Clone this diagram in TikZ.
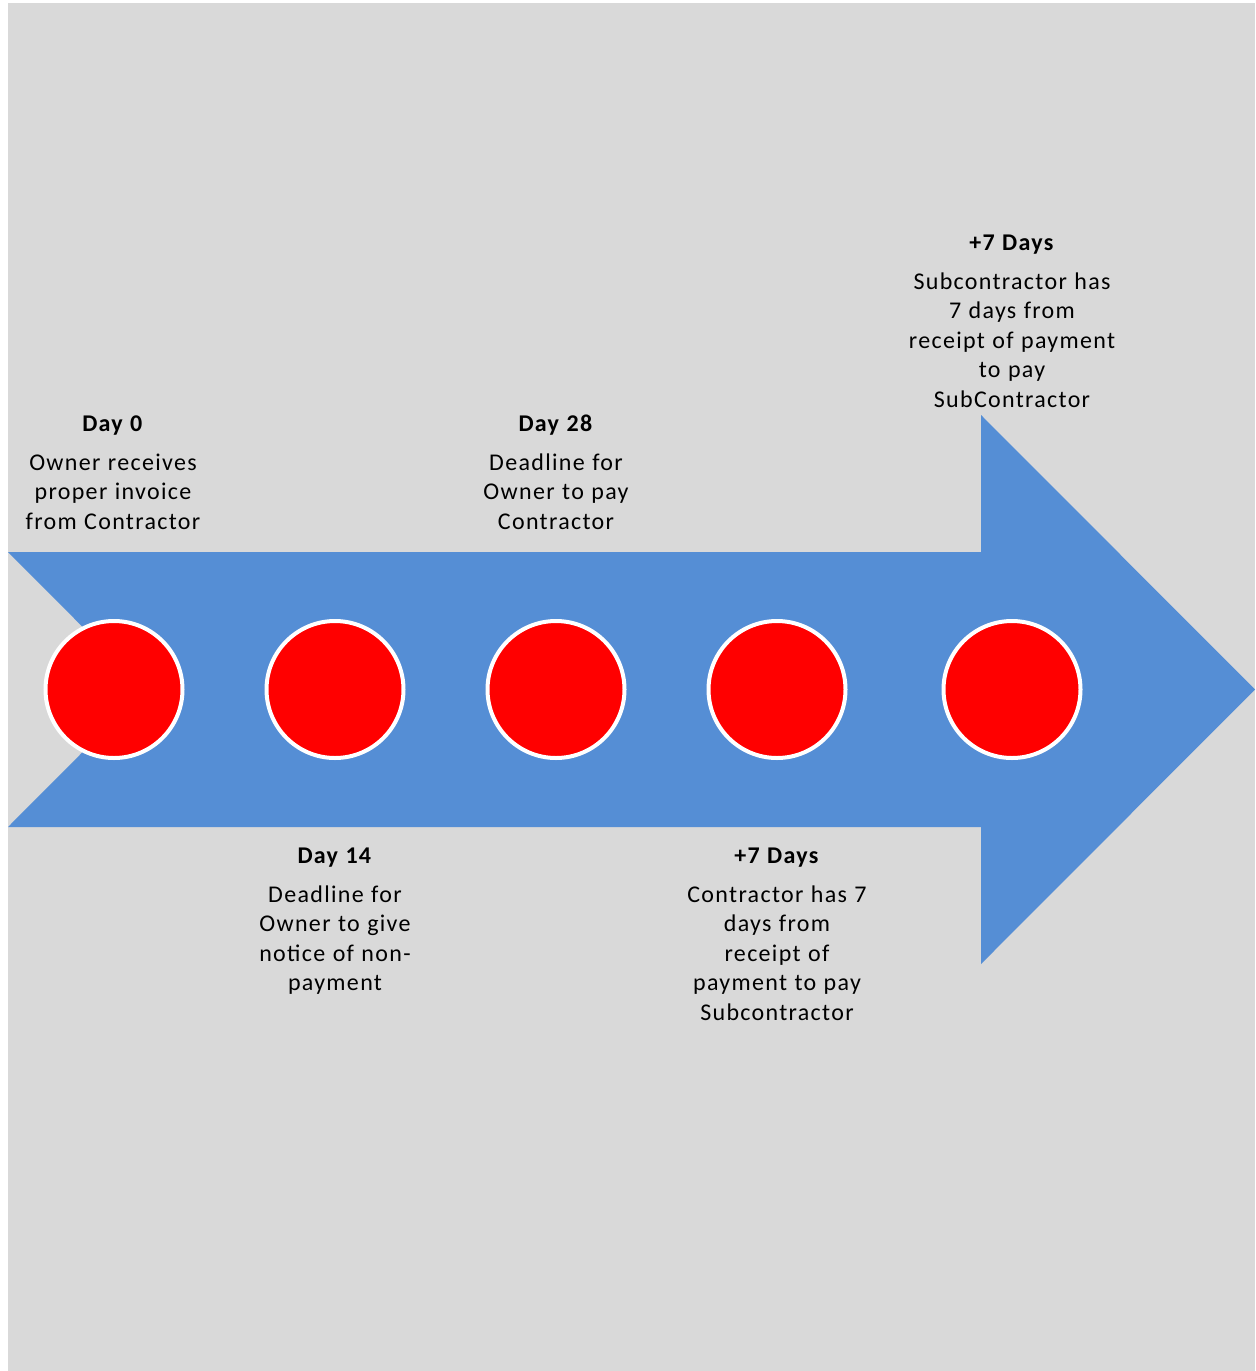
\documentclass[tikz,border=0pt]{standalone}
\usepackage{fontspec}
\setmainfont{Carlito}[LetterSpace=5.5,WordSpace=1.1]
\definecolor{bggrey}{HTML}{D9D9D9}
\definecolor{arrowblue}{HTML}{558ED5}
\definecolor{dotred}{HTML}{FF0000}
\renewcommand\arraystretch{1}
\begin{document}
\begin{tikzpicture}[x=0.5pt,y=-0.5pt,
  dot/.style={circle, fill=dotred, draw=white, line width=2pt, minimum size=68.5pt, inner sep=0pt},
  lbl/.style={anchor=base, inner sep=0pt, font=\fontsize{12}{14.75}\selectfont}]
\useasboundingbox (0,0) rectangle (1255,1371);
\fill[white] (0,0) rectangle (1255,1371);
\fill[bggrey] (8,3) rectangle (1255,1371);
\fill[arrowblue] (8,552) -- (981,552) -- (981,415) -- (1255,689.5) -- (981,964) -- (981,827) -- (8,827) -- (145,689.5) -- cycle;
\node[dot] (d0) at (114,689.5) {};
\node[dot] (d14) at (335,689.5) {};
\node[dot] (d28) at (556,689.5) {};
\node[dot] (d35) at (777,689.5) {};
\node[dot] (d42) at (1012,689.5) {};
\node[lbl] (t0) at (113,431) {\begin{tabular}[t]{@{}c@{}}\textbf{Day 0}\\[4.75pt]Owner receives\\proper invoice\\from Contractor\end{tabular}};
\node[lbl] (t28) at (556,431) {\begin{tabular}[t]{@{}c@{}}\textbf{Day 28}\\[4.75pt]Deadline for\\Owner to pay\\Contractor\end{tabular}};
\node[lbl] (t42) at (1012,250) {\begin{tabular}[t]{@{}c@{}}\textbf{+7 Days}\\[4.75pt]Subcontractor has\\7 days from\\receipt of payment\\to pay\\SubContractor\end{tabular}};
\node[lbl] (t14) at (335,863) {\begin{tabular}[t]{@{}c@{}}\textbf{Day 14}\\[4.75pt]Deadline for\\Owner to give\\notice of non-\\payment\end{tabular}};
\node[lbl] (t35) at (777,863) {\begin{tabular}[t]{@{}c@{}}\textbf{+7 Days}\\[4.75pt]Contractor has 7\\days from\\receipt of\\payment to pay\\Subcontractor\end{tabular}};
\end{tikzpicture}
\end{document}
